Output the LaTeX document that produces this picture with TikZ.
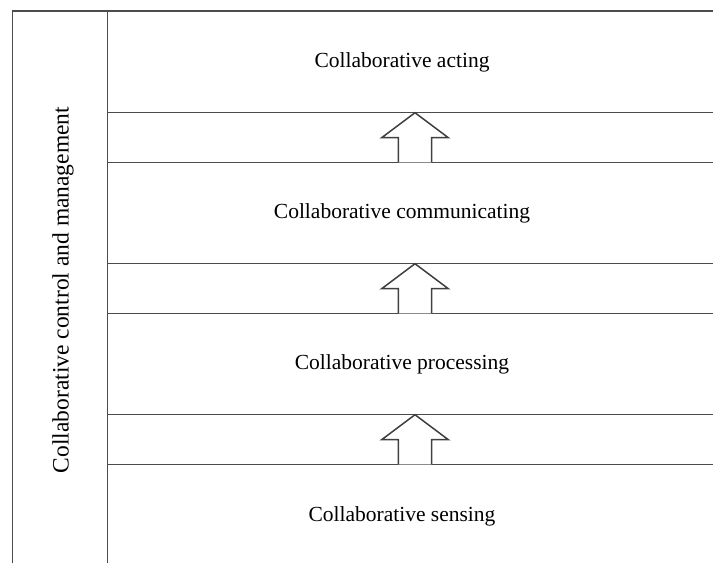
\documentclass[tikz,border=0pt]{standalone}
\usepackage{fontspec}
\setmainfont{Liberation Serif}
\begin{document}
\begin{tikzpicture}[x=1pt,y=-1pt,
  frame/.style={draw=black!70,line width=1.6pt},
  layerlabel/.style={font=\fontsize{21.5}{24}\selectfont,inner sep=0pt},
  sidelabel/.style={font=\fontsize{23.5}{26}\selectfont,inner sep=0pt,rotate=90},
  uparrow/.style={draw=black!75,line width=1.5pt,fill=white,line join=miter}]
\useasboundingbox (0,0) rectangle (713,563);
% outer frame and the side column
\coordinate (tl) at (12.5,11);
\coordinate (bl) at (12.5,563);
\coordinate (ct) at (107.5,11);
\coordinate (cb) at (107.5,563);
\draw[frame] (bl) -- (tl) -- (713,11);
\draw[frame] (ct) -- (cb);
% band boundaries
\foreach \y in {112.3,162.3,263.3,313.3,414.3,464.3}
  \draw[frame] (107.5,\y) -- (713,\y);
% layer labels
\node[layerlabel] (act)  at (402,62)  {Collaborative acting};
\node[layerlabel] (comm) at (402,213) {Collaborative communicating};
\node[layerlabel] (proc) at (402,364) {Collaborative processing};
\node[layerlabel] (sens) at (402,516) {Collaborative sensing};
\node[sidelabel] (ctrl) at (63,290) {Collaborative control and management};
% hollow arrows between layers
\foreach \b in {162.3,313.3,464.3}
  \draw[uparrow] (398.3,\b) -- (398.3,\b-24.6) -- (381.7,\b-24.6) -- (415,\b-49.6)
        -- (448.3,\b-24.6) -- (431.7,\b-24.6) -- (431.7,\b);
\end{tikzpicture}
\end{document}
